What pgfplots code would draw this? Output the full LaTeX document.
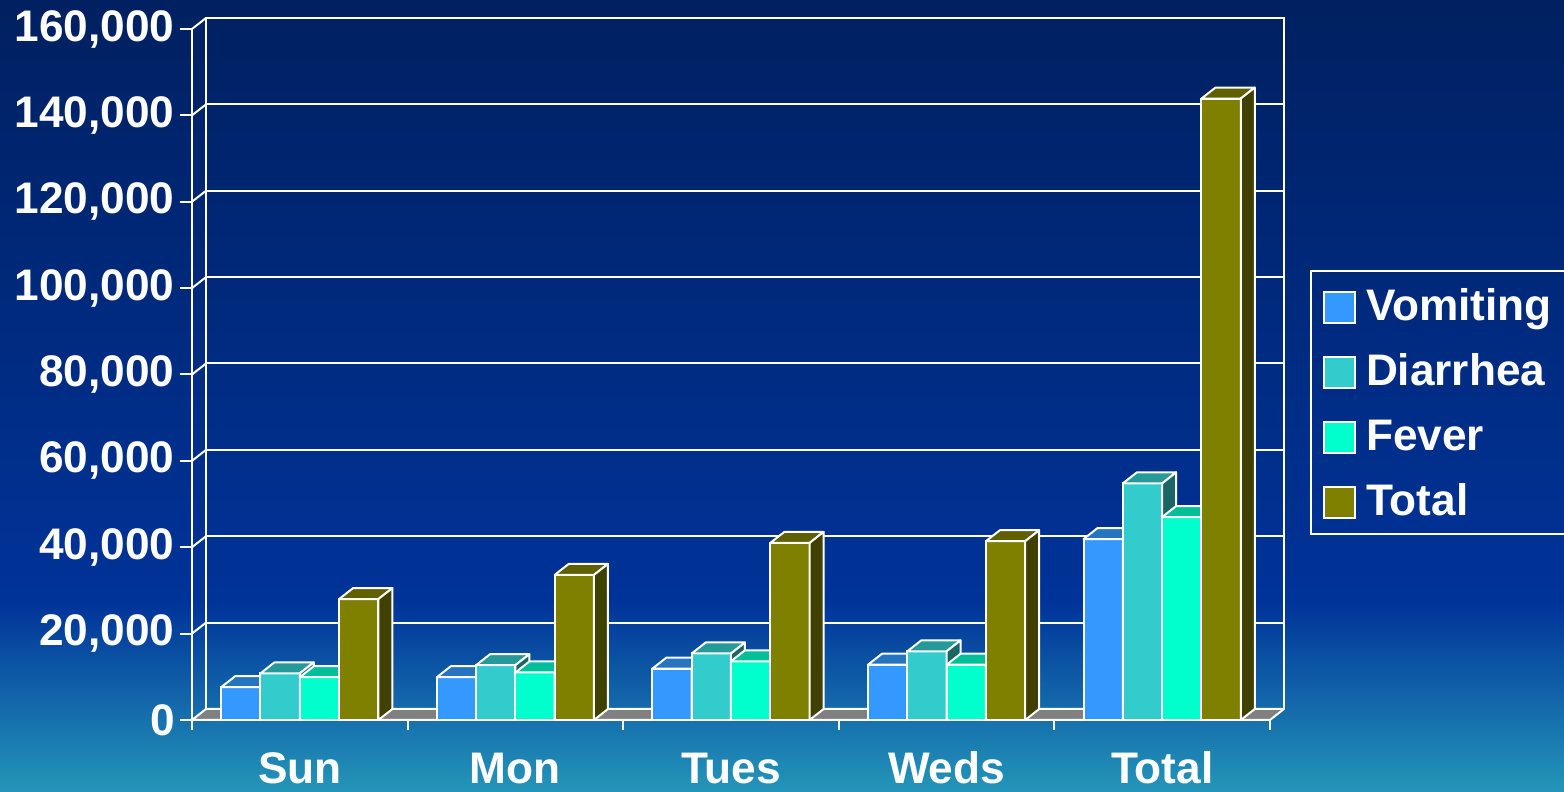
\documentclass[border=0pt]{standalone}
\usepackage{pgfplots}
\pgfplotsset{compat=1.18}
\usepackage{pgfplotstable}
\usepackage{fontspec}
\setmainfont{Liberation Sans}
\definecolor{bgtop}{RGB}{0,32,96}
\definecolor{bgmid}{RGB}{0,51,153}
\definecolor{bgbot}{RGB}{36,150,185}
\definecolor{vom}{RGB}{51,153,255}
\definecolor{vomtop}{RGB}{38,115,191}
\definecolor{vomside}{RGB}{26,77,128}
\definecolor{dia}{RGB}{51,204,204}
\definecolor{diatop}{RGB}{38,153,153}
\definecolor{diaside}{RGB}{26,102,102}
\definecolor{fev}{RGB}{0,255,204}
\definecolor{fevtop}{RGB}{0,191,153}
\definecolor{fevside}{RGB}{0,128,102}
\definecolor{tot}{RGB}{128,128,0}
\definecolor{tottop}{RGB}{96,96,0}
\definecolor{totside}{RGB}{64,64,0}
\definecolor{floorc}{RGB}{128,128,128}
\newcommand\lab{\fontsize{22.1}{26}\selectfont\bfseries}
\pgfdeclareplotmark{nothing}{}
\pgfplotstableread{
x V D F T
0 7600 10800 9900 28000
1 9900 12700 11000 33600
2 11900 15400 13600 41000
3 12800 15900 12800 41400
4 41900 54800 47000 143900
}\data
\pgfplotsset{
  mybar/.style 2 args={ybar, bar width=19.65pt, bar shift=#1, fill=#2, draw=white, line width=1pt,
    legend image code/.code={\draw[fill=#2, draw=white, line width=1pt] (0pt,-10pt) rectangle (15.5pt,5.5pt);}},
  box3d/.style n args={3}{forget plot, only marks, mark=nothing, scatter,
    visualization depends on={y \as \val},
    scatter/@pre marker code/.code={%
      \begingroup\pgfkeys{/pgf/fpu=true,/pgf/fpu/output format=fixed}%
      \pgfmathparse{\val*2.159375}\xdef\bxh{\pgfmathresult}\endgroup
      \filldraw[fill=#2, draw=white, line width=1pt, line join=round]
        (#1-9.825pt,0pt) -- ++(7pt,5.5pt) -- ++(19.65pt,0pt) -- (#1+9.825pt,0pt) -- cycle;
      \filldraw[fill=#3, draw=white, line width=1pt, line join=round]
        (#1+9.825pt,0pt) -- ++(7pt,5.5pt) -- ++(0pt,-\bxh pt) -- (#1+9.825pt,-\bxh pt) -- cycle;
      \begin{scope}},
    scatter/@post marker code/.code={\end{scope}}}
}
\begin{document}
\begin{tikzpicture}
\shade[top color=bgtop, bottom color=bgmid] (0pt,95pt) rectangle (782pt,396pt);
\shade[top color=bgmid, bottom color=bgbot] (0pt,0pt) rectangle (782pt,95.5pt);
\begin{axis}[
  at={(96pt,36pt)}, anchor=south west, scale only axis,
  width=539pt, height=345.5pt,
  xmin=-0.5, xmax=4.5, ymin=0, ymax=160,
  y filter/.expression={y/1000},
  clip=false, clip marker paths=true,
  axis lines*=left,
  axis line style={white, line width=1pt},
  xtick={0,1,2,3,4}, xticklabels={Sun,Mon,Tues,Weds,Total},
  minor xtick={-0.5,0.5,1.5,2.5,3.5,4.5},
  ytick={0,20,40,60,80,100,120,140,160},
  yticklabels={0,{20,000},{40,000},{60,000},{80,000},{100,000},{120,000},{140,000},{160,000}},
  tick align=outside,
  major tick length=6pt, minor tick length=5pt,
  tick style={white, line width=1pt},
  every major x tick/.append style={draw=none},
  tick label style={text=white, font=\lab},
  yticklabel style={anchor=east, inner sep=0pt, xshift=-2.5pt},
  xticklabel style={anchor=base, inner sep=0pt, yshift=-26pt},
  legend style={at={(1.03711,0.65123)}, anchor=north west, draw=white, line width=1pt,
    fill=none, text=white, font=\lab, inner xsep=6pt, inner ysep=7.25pt, row sep=13.2pt,
    nodes={inner sep=0pt, text height=17.6pt, text depth=0pt},
    /tikz/every odd column/.append style={column sep=5pt}},
  legend cell align=left,
]
\draw[white, line width=1pt, shift={(7pt,5.5pt)}] (axis cs:-0.5,0) -- (axis cs:-0.5,160) -- (axis cs:4.5,160) -- (axis cs:4.5,0);
\pgfplotsinvokeforeach{20,40,60,80,100,120,140}{
  \draw[white, line width=1pt, shift={(7pt,5.5pt)}] (axis cs:-0.5,#1) -- (axis cs:4.5,#1);
}
\pgfplotsinvokeforeach{20,40,60,80,100,120,140,160}{
  \draw[white, line width=1pt] (axis cs:-0.5,#1) -- ++(7pt,5.5pt);
}
\filldraw[fill=floorc, draw=white, line width=1pt, line join=round] (axis cs:-0.5,0) -- (axis cs:4.5,0) -- ([shift={(7pt,5.5pt)}]axis cs:4.5,0) -- ([shift={(7pt,5.5pt)}]axis cs:-0.5,0) -- cycle;
\addplot[mybar={-29.475pt}{vom}] table[x=x,y=V]{\data};
\addlegendentry{Vomiting\hspace*{6pt}}
\addplot[box3d={-29.475pt}{vomtop}{vomside}] table[x=x,y=V]{\data};
\addplot[mybar={-9.825pt}{dia}] table[x=x,y=D]{\data};
\addlegendentry{Diarrhea}
\addplot[box3d={-9.825pt}{diatop}{diaside}] table[x=x,y=D]{\data};
\addplot[mybar={9.825pt}{fev}] table[x=x,y=F]{\data};
\addlegendentry{Fever}
\addplot[box3d={9.825pt}{fevtop}{fevside}] table[x=x,y=F]{\data};
\addplot[mybar={29.475pt}{tot}] table[x=x,y=T]{\data};
\addlegendentry{Total}
\addplot[box3d={29.475pt}{tottop}{totside}] table[x=x,y=T]{\data};
\end{axis}
\pgfresetboundingbox
\useasboundingbox (0pt,0pt) rectangle (782pt,396pt);
\end{tikzpicture}
\end{document}
